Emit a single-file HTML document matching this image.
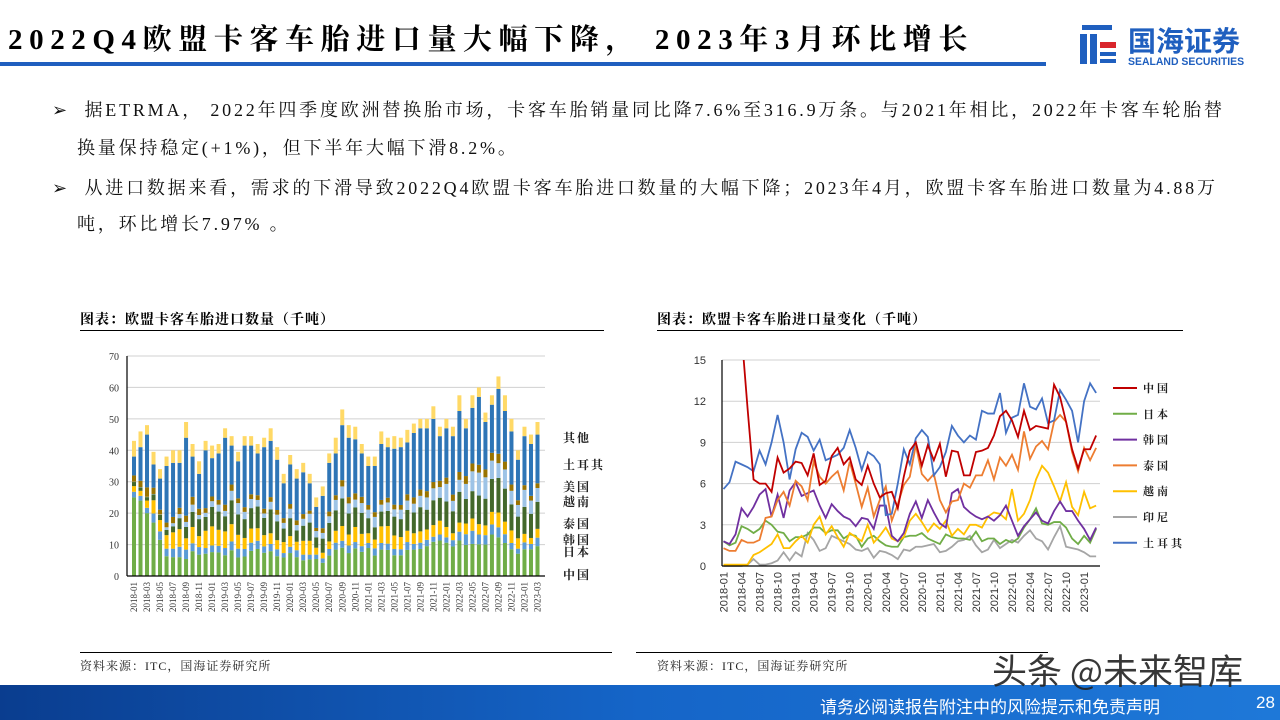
<!DOCTYPE html>
<html><head><meta charset="utf-8">
<style>
body{margin:0;width:1280px;height:720px;position:relative;background:#fff;overflow:hidden;font-family:"Liberation Serif","Noto Serif CJK SC","Noto Sans CJK SC",serif;}
.abs{position:absolute;white-space:nowrap;}
.title{left:8px;top:17px;font-size:29px;font-weight:bold;letter-spacing:6.6px;color:#000;}
.para{font-size:18px;color:#111;letter-spacing:2.8px;}
.ct{font-size:14px;font-weight:bold;font-family:"Liberation Serif","Noto Serif CJK SC",serif;letter-spacing:1px;}
.src{font-size:12px;color:#222;letter-spacing:1px;}
</style></head><body>
<div class="abs title">2022Q4欧盟卡客车胎进口量大幅下降， 2023年3月环比增长</div>
<div class="abs" style="left:0;top:62px;width:1046px;height:4px;background:#1f5fbf"></div>
<div class="abs" style="left:1078px;top:22px;width:175px;height:48px">
 <svg width="44" height="46" style="position:absolute;left:0;top:0">
  <rect x="4" y="3" width="30" height="5" fill="#1f5fbf"/><rect x="2" y="12" width="7" height="30" fill="#1f5fbf"/>
  <rect x="12" y="12" width="7" height="30" fill="#1f5fbf"/><rect x="22" y="20" width="16" height="6" fill="#d9262c"/>
  <rect x="22" y="30" width="16" height="4" fill="#1f5fbf"/><rect x="22" y="37" width="16" height="4" fill="#1f5fbf"/>
 </svg>
 <div class="abs" style="left:50px;top:-2px;font-size:28px;font-weight:bold;color:#1f5fbf;font-family:'Noto Sans CJK SC',sans-serif">国海证券</div>
 <div class="abs" style="left:50px;top:34px;font-size:11px;font-weight:bold;color:#1f5fbf;font-family:'Liberation Sans',sans-serif;transform:scaleX(0.95);transform-origin:left">SEALAND SECURITIES</div>
</div>
<div class="abs para" style="left:52px;top:96px">➢&nbsp; 据ETRMA， 2022年四季度欧洲替换胎市场，卡客车胎销量同比降7.6%至316.9万条。与2021年相比，2022年卡客车轮胎替</div>
<div class="abs para" style="left:77px;top:134px">换量保持稳定(+1%)，但下半年大幅下滑8.2%。</div>
<div class="abs para" style="left:52px;top:174px">➢&nbsp; 从进口数据来看，需求的下滑导致2022Q4欧盟卡客车胎进口数量的大幅下降；2023年4月，欧盟卡客车胎进口数量为4.88万</div>
<div class="abs para" style="left:77px;top:210px">吨，环比增长7.97% 。</div>

<div class="abs ct" style="left:80px;top:309px">图表：欧盟卡客车胎进口数量（千吨）</div>
<div class="abs" style="left:80px;top:330px;width:524px;height:1px;background:#000"></div>
<div class="abs ct" style="left:657px;top:309px">图表：欧盟卡客车胎进口量变化（千吨）</div>
<div class="abs" style="left:657px;top:330px;width:526px;height:1px;background:#000"></div>
<div class="abs" style="left:80px;top:652px;width:532px;height:1px;background:#000"></div>
<div class="abs src" style="left:80px;top:657px">资料来源：ITC，国海证券研究所</div>
<div class="abs" style="left:636px;top:652px;width:412px;height:1px;background:#000"></div>
<div class="abs src" style="left:657px;top:657px">资料来源：ITC，国海证券研究所</div>

<svg id="left" class="abs" style="left:0;top:0" width="640" height="650"></svg>
<svg id="right" class="abs" style="left:640px;top:0" width="640" height="650"></svg>

<div class="abs" style="left:0;top:685px;width:1280px;height:35px;background:linear-gradient(90deg,#0a3d8f,#1565c8 50%,#1e78d8)"></div>
<div class="abs" style="left:992px;top:644px;font-size:35px;color:#222;font-family:'Noto Sans CJK SC',sans-serif;opacity:.9">头条 @未来智库</div>
<div class="abs" style="left:820px;top:693px;font-size:17px;color:#fff;font-family:'Noto Sans CJK SC',sans-serif">请务必阅读报告附注中的风险提示和免责声明</div>
<div class="abs" style="left:1256px;top:693px;font-size:17px;color:#fff;font-family:'Liberation Sans',sans-serif">28</div>

<script>
const months=[];for(let y=2018;y<=2023;y++)for(let m=1;m<=12;m++){if(y===2023&&m>3)break;months.push(y+'-'+String(m).padStart(2,'0'));}
const china=[25,24,20,17,11.5,6.3,6.0,6.0,5.4,7.9,6.8,7.1,7.6,7.5,6.6,8.2,5.9,6.2,8.0,8.6,7.4,7.9,6.3,5.9,7.3,6.0,5.0,5.3,5.4,4.2,6.5,8.4,9.0,7.3,8.8,7.7,8.9,6.5,8.4,8.3,6.6,6.6,8.3,8.4,8.6,9.5,10.9,11.3,10.6,9.4,11.3,9.9,10.2,10.1,10.0,13.2,12.3,10.5,8.5,7.1,8.5,8.5,9.5];
const japan=[1.8,1.5,1.7,2.9,2.7,2.4,2.7,3.3,3.0,2.5,2.4,1.8,2.1,2.1,2.3,2.8,2.8,2.4,2.6,2.6,2.0,2.3,2.2,1.4,2.0,2.2,1.8,1.5,1.4,1.4,2.1,2.2,2.2,2.4,2.0,1.8,1.6,2.3,2.1,2.0,2.0,1.9,2.5,1.8,2.0,2.0,1.6,1.9,1.7,2.0,2.8,3.4,4.2,3.1,3.0,3.2,3.2,2.8,2.0,1.6,2.2,1.7,2.7];
const korea=[1.8,1.6,2.3,4.2,3.6,4.3,5.2,5.6,3.6,5.2,3.5,5.5,6.1,5.1,5.3,5.5,4.4,3.5,4.5,4.0,3.6,3.4,2.9,3.5,3.4,2.7,4.4,4.4,2.2,1.8,2.4,3.8,4.7,3.5,4.8,3.9,3.1,2.8,5.3,5.6,4.3,3.9,3.6,3.4,3.6,3.3,3.7,4.4,3.3,2.2,2.9,3.4,3.9,3.3,3.1,4.0,4.7,4.0,4.0,3.3,2.7,1.9,2.8];
const thailand=[1.3,1.1,1.1,1.9,1.7,1.7,1.9,3.5,3.6,4.8,5.4,4.4,6.2,5.8,4.8,7.6,6.5,6.0,6.5,6.9,5.5,7.6,6.0,4.3,5.7,3.6,4.8,5.8,3.3,4.5,5.9,6.5,8.8,6.7,6.2,6.7,4.8,3.9,4.7,4.8,6.0,5.7,6.6,6.6,7.7,6.3,7.9,7.3,8.1,7.0,9.8,7.8,8.7,9.1,8.5,10.5,11.0,10.5,8.3,6.9,8.6,7.7,8.6];
const vietnam=[0.1,0.1,0.1,0.1,0.1,0.8,1.0,1.3,1.6,2.3,1.3,1.3,1.8,2.2,1.7,3.0,3.6,2.3,2.9,2.1,1.4,2.4,2.1,1.8,3.0,1.7,2.2,2.8,2.0,1.8,2.1,3.3,3.8,3.2,2.5,3.1,2.7,3.3,2.2,2.7,2.3,3.0,3.0,2.8,3.6,3.9,3.8,3.4,5.6,3.3,3.8,4.8,6.3,7.3,6.8,5.8,4.7,6.1,4.3,3.7,5.4,4.2,4.4];
const indonesia=[0,0,0,0,0.1,0.5,0.1,0.1,0.2,0.4,1.0,0.4,1.0,0.7,2.4,1.9,1.1,1.3,2.2,2.0,1.8,1.6,1.2,1.1,1.3,0.6,1.1,1.0,0.8,0.5,1.2,1.1,1.4,1.4,1.5,1.6,1.0,1.1,1.4,1.8,1.9,2.2,1.5,1.0,1.2,1.9,1.3,1.6,1.9,1.7,2.2,2.6,2.0,1.8,1.2,2.1,2.9,1.4,1.3,1.2,1.0,0.7,0.7];
const turkey=[5.6,6.1,7.6,7.4,7.2,6.9,8.4,7.4,9.0,11.0,9.0,6.3,8.5,9.7,9.4,8.4,9.2,7.7,7.9,8.1,8.6,9.9,8.6,7.0,8.3,8.0,7.4,3.7,3.8,6.0,8.5,7.4,9.3,9.9,9.4,6.6,7.2,8.3,10.2,9.5,9.0,9.5,9.2,11.3,11.1,11.1,12.6,9.7,10.8,11.0,13.3,11.6,11.4,12.2,10.4,10.6,12.8,12.1,11.3,9.0,12.0,13.3,12.6];
const usa=[2,2,3,2,1.5,1.5,2,2,2,2.5,2,1.5,1.5,1.5,2,2,1.5,1.5,1.5,1.5,1.5,1.5,1.5,1.5,1.5,1.5,1.5,1,1,1.5,1.5,1.5,2,2,2,2,1.5,1.5,1.5,1.5,1.5,1.5,2,2,2,2,2,2,2,2,2.5,2.5,2.5,2.5,2.5,2.5,3,2.5,2,1.5,1.5,1.5,1.5];
const other=[5,5,3,4,3,3,4,4,5,4,4,3,4,3,3,3,3,3,3,3,3,4,4,3,3,3,3,3,3,3,3,5,5,4,4,3,3,3,4,3,4,3,4,3,3,3,4,3,3,3,5,3,4,3,3,3,4,5,4,3,3,3,4];
const totals=[43,46,48,39.5,34,38,40,40,49,42,36.5,43,41.5,42,47,44.5,39.5,44.5,44.5,42,44,47,41,32.5,38.5,34,36,32.5,25,28.5,39,44,53,48,47.5,42,38,38,46,44,44.5,44,46.5,48.5,50,50,54,47.5,50,47.5,57.5,50,57.5,60,52,57.5,63.5,57.5,50,40,47.5,45,49];
const leftTicks=[0,10,20,30,40,50,60,70];
const rightTicks=[0,3,6,9,12,15];
const NS='http://www.w3.org/2000/svg';
function mk(p,t,a){const e=document.createElementNS(NS,t);for(const k in a)e.setAttribute(k,a[k]);p.appendChild(e);return e;}

// LEFT chart
const L=document.getElementById('left');
const lx0=127,lx1=545,ly0=576,ly1=356,lmax=70;
const ly=v=>ly0-(v/lmax)*(ly0-ly1);
const lstep=(lx1-lx0-8)/months.length;
const lx=i=>lx0+5+i*lstep;
leftTicks.forEach(t=>{
 if(t>0){const g=mk(L,'line',{x1:lx0,x2:lx1,y1:ly(t),y2:ly(t),stroke:'#d0d0d0','stroke-width':1});
 }
 const tx=mk(L,'text',{x:lx0-8,y:ly(t)+4,'text-anchor':'end','font-size':10,'font-family':'Liberation Serif,serif',fill:'#333'});tx.textContent=t;
 
});
const lseries=[['china',china,'#70ad47'],['japan',japan,'#5b9bd5'],['korea',korea,'#ffc000'],['thailand',thailand,'#43682b'],['vietnam',vietnam,'#9dc3e6'],['usa',usa,'#997300']];
months.forEach((m,i)=>{
 let acc=0;
 lseries.forEach(([n,arr,c])=>{const v=arr[i];const r=mk(L,'rect',{x:lx(i),y:ly(acc+v),width:4,height:ly(acc)-ly(acc+v),fill:c});
  acc+=v;});
 const tk=Math.max(totals[i]-other[i]-acc,turkey[i]*0.5);
 const rt=mk(L,'rect',{x:lx(i),y:ly(acc+tk),width:4,height:ly(acc)-ly(acc+tk),fill:'#2e75b6'});
 acc+=tk;
 const o=other[i];
 const r=mk(L,'rect',{x:lx(i),y:ly(acc+o),width:4,height:ly(acc)-ly(acc+o),fill:'#ffd966'});
 
 if(i%2===0){const t=mk(L,'text',{x:0,y:0,transform:`translate(${lx(i)+5},582) rotate(-90)`,'text-anchor':'end','font-size':9,'font-family':'Liberation Serif,serif',fill:'#333'});t.textContent=m;
 }
});
let a1=mk(L,'line',{x1:lx0,x2:lx0,y1:ly1,y2:ly0,stroke:'#000','stroke-width':1.2});
let a2=mk(L,'line',{x1:lx0,x2:lx1,y1:ly0,y2:ly0,stroke:'#000','stroke-width':1.2});
const leftLegend=[['其他',437],['土耳其',464],['美国',486],['越南',501],['泰国',523],['韩国',539],['日本',551],['中国',574]];
leftLegend.forEach(([n,y])=>{const t=mk(L,'text',{x:563,y:y+5,'font-size':12,'font-weight':'bold','font-family':'Noto Serif CJK SC,serif',fill:'#222','letter-spacing':2});t.textContent=n;
 });

// RIGHT chart (svg placed at x=640)
const R=document.getElementById('right');
const ox=-640;
const rx0=722+ox,rx1=1100+ox,ry0=566,ry1=360,rmax=15;
const ry=v=>ry0-(v/rmax)*(ry0-ry1);
const rstep=6.01;
const rx=i=>rx0+1.5+i*rstep;
mk(mk(R,'defs',{}),'clipPath',{id:'rc'}).appendChild(document.createElementNS(NS,'rect'));
const cr=R.querySelector('#rc rect');cr.setAttribute('x',rx0);cr.setAttribute('y',ry1);cr.setAttribute('width',rx1-rx0);cr.setAttribute('height',ry0-ry1+2);
rightTicks.forEach(t=>{
 if(t>0){const g=mk(R,'line',{x1:rx0,x2:rx1,y1:ry(t),y2:ry(t),stroke:'#d0d0d0','stroke-width':1});}
 const tx=mk(R,'text',{x:rx0-16,y:ry(t)+4,'text-anchor':'end','font-size':11,'font-family':'Liberation Sans,sans-serif',fill:'#333'});tx.textContent=t;
 
});
const rseries=[['中国',china,'#c00000'],['日本',japan,'#70ad47'],['韩国',korea,'#7030a0'],['泰国',thailand,'#ed7d31'],['越南',vietnam,'#ffc000'],['印尼',indonesia,'#a5a5a5'],['土耳其',turkey,'#4472c4']];
const drawOrder=[5,1,4,2,3,6,0];
drawOrder.forEach(k=>{const [n,arr,c]=rseries[k];
 const p=mk(R,'polyline',{points:arr.map((v,i)=>rx(i)+','+ry(v)).join(' '),fill:'none',stroke:c,'stroke-width':1.8,'clip-path':'url(#rc)'});
 });
months.forEach((m,i)=>{if(i%3===0){const t=mk(R,'text',{x:0,y:0,transform:`translate(${rx(i)+4},572) rotate(-90)`,'text-anchor':'end','font-size':11,'font-family':'Liberation Sans,sans-serif',fill:'#333'});t.textContent=m;
 }});
let b1=mk(R,'line',{x1:rx0,x2:rx0,y1:ry1,y2:ry0,stroke:'#000','stroke-width':1.2});
let b2=mk(R,'line',{x1:rx0,x2:rx1,y1:ry0,y2:ry0,stroke:'#000','stroke-width':1.2});
rseries.forEach(([n,arr,c],k)=>{const y=388+k*25.8;
 const l=mk(R,'line',{x1:1113+ox,x2:1137+ox,y1:y,y2:y,stroke:c,'stroke-width':2});
 const t=mk(R,'text',{x:1143+ox,y:y+4,'font-size':11,'font-weight':'bold','font-family':'Noto Serif CJK SC,serif',fill:'#222','letter-spacing':3});t.textContent=n;
 });
</script>
</body></html>
